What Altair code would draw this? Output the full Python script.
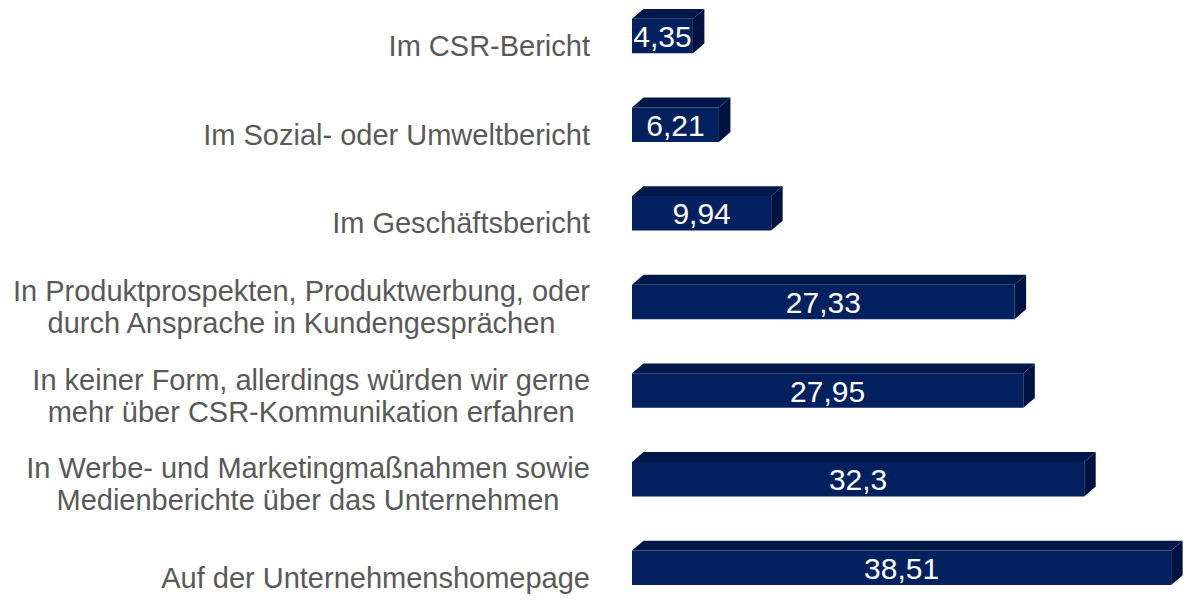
import altair as alt
import pandas as pd

categories = [
    "Im CSR-Bericht",
    "Im Sozial- oder Umweltbericht",
    "Im Geschäftsbericht",
    "In Produktprospekten, Produktwerbung, oder\ndurch Ansprache in Kundengesprächen",
    "In keiner Form, allerdings würden wir gerne\nmehr über CSR-Kommunikation erfahren",
    "In Werbe- und Marketingmaßnahmen sowie\nMedienberichte über das Unternehmen",
    "Auf der Unternehmenshomepage",
]
values = [4.35, 6.21, 9.94, 27.33, 27.95, 32.3, 38.51]
value_labels = ["4,35", "6,21", "9,94", "27,33", "27,95", "32,3", "38,51"]

# style
FRONT = "#03205F"
TOP = "#001849"
SIDE = "#001240"
LABEL = "#595959"
FONT = "Liberation Sans"
LABEL_SIZE = 29
W, H = 1176, 586
PX_UNIT = 14.0      # px per data unit on x
ZERO_PX = 624       # pixel of x = 0
PITCH = 90.0        # px per category slot
FIRST_C = 28.5      # pixel of first bar center
HALF = 17.5 / PITCH
DY = 10 / PITCH
DX = 11.5 / PX_UNIT
LABEL_RIGHT = -3.0  # label right edge, in x data units (42 px left of zero)

# Arial / Liberation Sans advance widths (per 1000 em) for centring multi-line labels
ARIAL = {" ": 278, ",": 278, "-": 333, "A": 667, "B": 667, "C": 722, "F": 611, "G": 778,
         "I": 278, "K": 667, "M": 833, "P": 667, "R": 722, "S": 667, "U": 722, "W": 944,
         "a": 556, "b": 556, "c": 500, "d": 556, "e": 556, "f": 278, "g": 556, "h": 556,
         "i": 222, "k": 500, "l": 222, "m": 833, "n": 556, "o": 556, "p": 556, "r": 333,
         "s": 500, "t": 278, "u": 556, "v": 500, "w": 722, "ß": 611, "ä": 556, "ü": 556}


def text_width(s):
    return sum(ARIAL.get(ch, 556) for ch in s) / 1000 * LABEL_SIZE


bars = pd.DataFrame({
    "pos": list(range(len(categories))),
    "cat": categories,
    "value": values,
    "label": value_labels,
})
bars["lines"] = bars["cat"].str.count("\n") + 1
bars["label_x"] = [
    LABEL_RIGHT - max(text_width(l) for l in c.split("\n")) / 2 / PX_UNIT for c in categories
]

top_rows, side_rows = [], []
for i, v in enumerate(values):
    yt = i - HALF
    yb = i + HALF
    top_rows += [
        {"pos": i, "x": 0.0, "y": yt, "y2": yt},
        {"pos": i, "x": DX, "y": yt - DY, "y2": yt},
        {"pos": i, "x": v, "y": yt - DY, "y2": yt},
        {"pos": i, "x": v + DX, "y": yt - DY, "y2": yt - DY},
    ]
    side_rows += [
        {"pos": i, "x": v, "y": yt, "y2": yb},
        {"pos": i, "x": v + DX, "y": yt - DY, "y2": yb - DY},
    ]
top_df = pd.DataFrame(top_rows)
side_df = pd.DataFrame(side_rows)

xs = alt.Scale(domain=[-ZERO_PX / PX_UNIT, (W - ZERO_PX) / PX_UNIT], nice=False, zero=False)
ys = alt.Scale(domain=[-FIRST_C / PITCH, (H - FIRST_C) / PITCH], reverse=True, nice=False, zero=False)

top = alt.Chart(top_df).mark_area(color=TOP, orient="vertical").encode(
    x=alt.X("x:Q", scale=xs, axis=None),
    y=alt.Y("y:Q", scale=ys, axis=None, stack=None),
    y2="y2:Q",
    detail="pos:N",
)
side = alt.Chart(side_df).mark_area(color=SIDE, orient="vertical").encode(
    x=alt.X("x:Q", scale=xs, axis=None),
    y=alt.Y("y:Q", scale=ys, axis=None, stack=None),
    y2="y2:Q",
    detail="pos:N",
)
front = alt.Chart(bars).transform_calculate(
    x0="0", y1=f"datum.pos - {HALF}", y2=f"datum.pos + {HALF}"
).mark_rect(color=FRONT).encode(
    x=alt.X("x0:Q", scale=xs, axis=None),
    x2="value:Q",
    y=alt.Y("y1:Q", scale=ys, axis=None),
    y2="y2:Q",
)
vals = alt.Chart(bars).transform_calculate(mid="datum.value / 2").mark_text(
    color="white", fontSize=30, font=FONT, baseline="alphabetic", dy=11
).encode(
    x=alt.X("mid:Q", scale=xs, axis=None),
    y=alt.Y("pos:Q", scale=ys, axis=None),
    text="label:N",
)
lab1 = alt.Chart(bars).transform_filter("datum.lines == 1").mark_text(
    align="right", baseline="alphabetic", dy=20, fontSize=LABEL_SIZE, font=FONT, color=LABEL
).encode(
    x=alt.X("label_x:Q", scale=xs, axis=None),
    y=alt.Y("pos:Q", scale=ys, axis=None),
    text="cat:N",
).transform_calculate(label_x=f"{LABEL_RIGHT}")
lab2 = alt.Chart(bars).transform_filter("datum.lines > 1").mark_text(
    align="center", baseline="alphabetic", dy=-1, fontSize=LABEL_SIZE, font=FONT, color=LABEL,
    lineBreak="\n", lineHeight=32
).encode(
    x=alt.X("label_x:Q", scale=xs, axis=None),
    y=alt.Y("pos:Q", scale=ys, axis=None),
    text="cat:N",
)

chart = alt.layer(top, side, front, vals, lab1, lab2).properties(
    width=W, height=H, padding=0,
    autosize=alt.AutoSizeParams(type="fit", contains="padding"),
    background="white",
).configure_view(stroke=None)

chart.save("out.html", embed_options={"renderer": "svg", "actions": False})
